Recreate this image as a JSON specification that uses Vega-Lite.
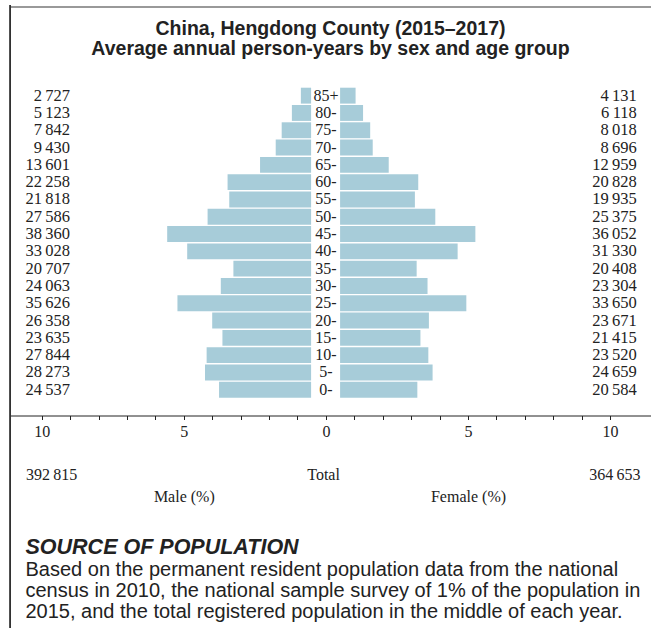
{
  "$schema": "https://vega.github.io/schema/vega-lite/v6.json",
  "width": 641,
  "height": 623,
  "autosize": "none",
  "padding": {"left": 10, "top": 5, "right": 0, "bottom": 0},
  "background": "white",
  "config": {
    "view": {"stroke": null},
    "locale": {"number": {"decimal": ".", "thousands": "\u2009", "grouping": [3], "currency": ["", ""]}}
  },
  "title": {
    "text": ["China, Hengdong County (2015\u20132017)", "Average annual person-years by sex and age group"],
    "font": "Liberation Sans",
    "fontSize": 19.5,
    "fontWeight": "bold",
    "color": "#222222",
    "lineHeight": 20,
    "anchor": "middle",
    "frame": "group",
    "baseline": "top",
    "offset": -55
  },
  "data": {
    "values": [
      {"age": "85+", "sex": "Male", "count": 2727, "share": -0.360},
      {"age": "80-", "sex": "Male", "count": 5123, "share": -0.676},
      {"age": "75-", "sex": "Male", "count": 7842, "share": -1.035},
      {"age": "70-", "sex": "Male", "count": 9430, "share": -1.245},
      {"age": "65-", "sex": "Male", "count": 13601, "share": -1.796},
      {"age": "60-", "sex": "Male", "count": 22258, "share": -2.939},
      {"age": "55-", "sex": "Male", "count": 21818, "share": -2.880},
      {"age": "50-", "sex": "Male", "count": 27586, "share": -3.642},
      {"age": "45-", "sex": "Male", "count": 38360, "share": -5.064},
      {"age": "40-", "sex": "Male", "count": 33028, "share": -4.360},
      {"age": "35-", "sex": "Male", "count": 20707, "share": -2.734},
      {"age": "30-", "sex": "Male", "count": 24063, "share": -3.177},
      {"age": "25-", "sex": "Male", "count": 35626, "share": -4.703},
      {"age": "20-", "sex": "Male", "count": 26358, "share": -3.480},
      {"age": "15-", "sex": "Male", "count": 23635, "share": -3.120},
      {"age": "10-", "sex": "Male", "count": 27844, "share": -3.676},
      {"age": "5-", "sex": "Male", "count": 28273, "share": -3.733},
      {"age": "0-", "sex": "Male", "count": 24537, "share": -3.239},
      {"age": "85+", "sex": "Female", "count": 4131, "share": 0.545},
      {"age": "80-", "sex": "Female", "count": 6118, "share": 0.808},
      {"age": "75-", "sex": "Female", "count": 8018, "share": 1.059},
      {"age": "70-", "sex": "Female", "count": 8696, "share": 1.148},
      {"age": "65-", "sex": "Female", "count": 12959, "share": 1.711},
      {"age": "60-", "sex": "Female", "count": 20828, "share": 2.750},
      {"age": "55-", "sex": "Female", "count": 19935, "share": 2.632},
      {"age": "50-", "sex": "Female", "count": 25375, "share": 3.350},
      {"age": "45-", "sex": "Female", "count": 36052, "share": 4.760},
      {"age": "40-", "sex": "Female", "count": 31330, "share": 4.136},
      {"age": "35-", "sex": "Female", "count": 20408, "share": 2.694},
      {"age": "30-", "sex": "Female", "count": 23304, "share": 3.077},
      {"age": "25-", "sex": "Female", "count": 33650, "share": 4.442},
      {"age": "20-", "sex": "Female", "count": 23671, "share": 3.125},
      {"age": "15-", "sex": "Female", "count": 21415, "share": 2.827},
      {"age": "10-", "sex": "Female", "count": 23520, "share": 3.105},
      {"age": "5-", "sex": "Female", "count": 24659, "share": 3.255},
      {"age": "0-", "sex": "Female", "count": 20584, "share": 2.718}
    ]
  },
  "resolve": {"axis": {"x": "independent"}},
  "layer": [
    {
      "transform": [{"filter": "datum.sex === 'Male'"}],
      "mark": {"type": "bar", "color": "#a7ccd9", "xOffset": -14.8, "x2Offset": -14.8},
      "encoding": {
        "y": {
          "field": "age", "type": "nominal",
          "scale": {"domain": ["85+","80-","75-","70-","65-","60-","55-","50-","45-","40-","35-","30-","25-","20-","15-","10-","5-","0-"], "range": [82.7, 392.7], "paddingInner": 0.08, "paddingOuter": 0, "round": false},
          "axis": {
            "orient": "left", "labels": false, "ticks": false, "grid": false, "domain": false,
            "title": "SOURCE OF POPULATION", "titleAngle": 0, "titleX": 15, "titleY": 548,
            "titleAlign": "left", "titleBaseline": "alphabetic", "titleFont": "Liberation Sans",
            "titleFontSize": 21.5, "titleFontWeight": "bold", "titleFontStyle": "italic", "titleColor": "#222222"
          }
        },
        "x": {
          "field": "share", "type": "quantitative",
          "scale": {"domain": [-11.116, 11.44], "nice": false, "zero": false},
          "axis": {
            "orient": "bottom", "offset": -212.5,
            "values": [-10,-9,-8,-7,-6,-5,-4,-3,-2,-1,0,1,2,3,4,5,6,7,8,9,10],
            "labelExpr": "datum.value % 5 == 0 ? format(abs(datum.value), 'd') : ''",
            "grid": false, "tickSize": 4, "tickColor": "#222222", "tickWidth": 1,
            "domainColor": "#222222", "domainWidth": 1,
            "labelFont": "Liberation Serif", "labelFontSize": 16, "labelColor": "#222222",
            "labelPadding": 4, "labelOverlap": false, "labelFlush": false, "labelBound": false,
            "title": ["Based on the permanent resident population data from the national", "census in 2010, the national sample survey of 1% of the population in", "2015, and the total registered population in the middle of each year."],
            "titleX": 15, "titleY": 159.5, "titleAlign": "left", "titleAnchor": "start", "titleBaseline": "alphabetic",
            "titleFont": "Liberation Sans", "titleFontSize": 20, "titleFontWeight": "normal", "titleColor": "#222222", "titleLineHeight": 21
          }
        },
        "x2": {"datum": 0}
      }
    },
    {
      "transform": [{"filter": "datum.sex === 'Female'"}],
      "mark": {"type": "bar", "color": "#a7ccd9", "xOffset": 14.2, "x2Offset": 14.2},
      "encoding": {
        "y": {"field": "age", "type": "nominal"},
        "x": {
          "field": "share", "type": "quantitative",
          "scale": {"domain": [-11.116, 11.44], "nice": false, "zero": false},
          "axis": {"orient": "top", "offset": -1.5, "labels": false, "ticks": false, "grid": false, "domain": true, "domainColor": "#999999", "domainWidth": 2, "title": null}
        },
        "x2": {"datum": 0}
      }
    },
    {
      "mark": {"type": "rule", "color": "#333333", "strokeWidth": 1},
      "encoding": {
        "x": {
          "datum": -11.1, "type": "quantitative",
          "scale": {"domain": [-11.116, 11.44], "nice": false, "zero": false},
          "axis": {
            "orient": "bottom", "offset": -161.3, "values": [-9.67, -0.1, 10.15],
            "labelExpr": "datum.value < -5 ? '392\u2009815' : datum.value > 5 ? '364\u2009653' : 'Total'",
            "domain": false, "ticks": false, "tickSize": 0, "grid": false, "labelPadding": 0,
            "labelFont": "Liberation Serif", "labelFontSize": 16, "labelColor": "#222222",
            "labelOverlap": false, "labelFlush": false, "labelBound": false, "title": null
          }
        }
      }
    },
    {
      "transform": [{"filter": "datum.sex === 'Male'"}],
      "mark": {"type": "text", "font": "Liberation Serif", "fontSize": 16, "color": "#222222", "align": "center", "baseline": "middle"},
      "encoding": {
        "y": {"field": "age", "type": "nominal"},
        "x": {
          "datum": 0, "type": "quantitative",
          "scale": {"domain": [-11.116, 11.44], "nice": false, "zero": false},
          "axis": {
            "orient": "bottom", "offset": -139.5, "values": [-5, 5],
            "labelExpr": "datum.value < 0 ? 'Male (%)' : 'Female (%)'",
            "domain": false, "ticks": false, "tickSize": 0, "grid": false, "labelPadding": 0,
            "labelFont": "Liberation Serif", "labelFontSize": 16, "labelColor": "#222222",
            "labelOverlap": false, "labelFlush": false, "labelBound": false, "title": null
          }
        },
        "text": {"field": "age", "type": "nominal"}
      }
    },
    {
      "transform": [{"filter": "datum.sex === 'Male'"}],
      "mark": {"type": "text", "font": "Liberation Serif", "fontSize": 16.5, "color": "#222222", "align": "right", "baseline": "middle"},
      "encoding": {
        "y": {"field": "age", "type": "nominal"},
        "x": {"datum": -9.0, "type": "quantitative", "scale": {"domain": [-11.116, 11.44], "nice": false, "zero": false}, "axis": null},
        "text": {"field": "count", "type": "quantitative", "format": ","}
      }
    },
    {
      "transform": [{"filter": "datum.sex === 'Female'"}],
      "mark": {"type": "text", "font": "Liberation Serif", "fontSize": 16.5, "color": "#222222", "align": "right", "baseline": "middle"},
      "encoding": {
        "y": {"field": "age", "type": "nominal"},
        "x": {"datum": 10.94, "type": "quantitative", "scale": {"domain": [-11.116, 11.44], "nice": false, "zero": false}, "axis": null},
        "text": {"field": "count", "type": "quantitative", "format": ","}
      }
    }
  ]
}
